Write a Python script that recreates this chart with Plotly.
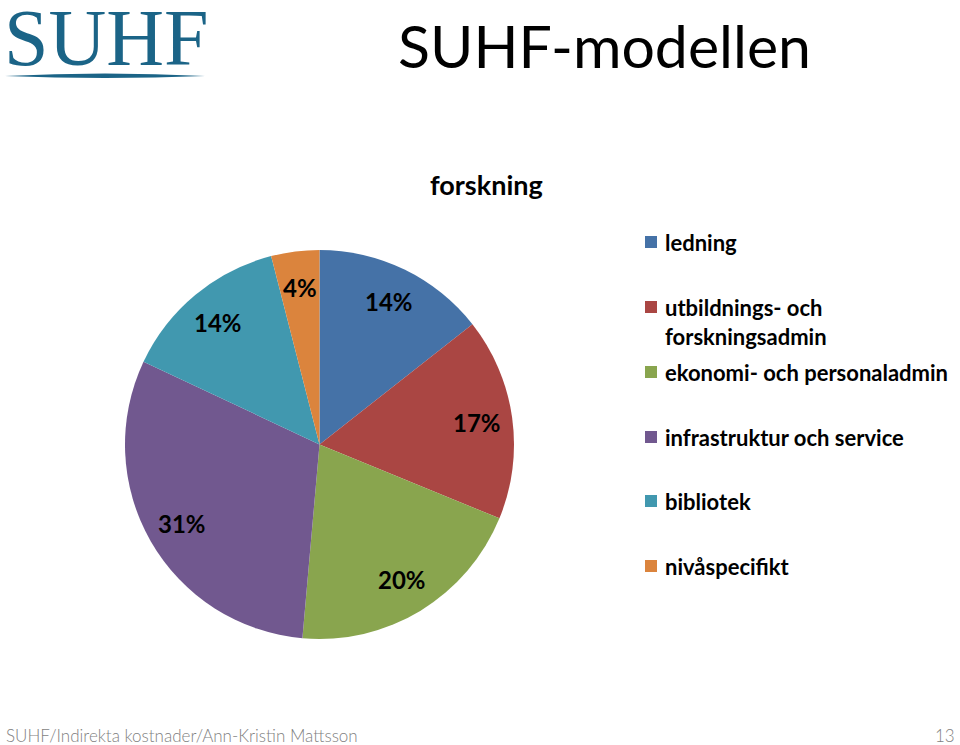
import math
import plotly.graph_objects as go

# ---- data ----
categories = ["ledning", "utbildnings- och<br>forskningsadmin", "ekonomi- och personaladmin",
              "infrastruktur och service", "bibliotek", "nivåspecifikt"]
values = [14.4, 16.8, 20.2, 30.6, 14.0, 4.0]
colors = ["#4572A7", "#AA4643", "#89A54E", "#71588F", "#4198AF", "#DB843D"]

W, H = 960, 745
FONT = "Lato"

# pie geometry (pixels)
cx, cy, R = 319.5, 444.5, 194.5


def px(x):
    return x / W


def py(y):
    return (H - y) / H


fig = go.Figure()
fig.add_trace(go.Pie(
    values=values, labels=categories, sort=False, direction="clockwise", rotation=0,
    marker=dict(colors=colors, line=dict(width=0)),
    textinfo="none", hoverinfo="label+percent", showlegend=False,
    domain=dict(x=[px(cx - R), px(cx + R)], y=[py(cy + R), py(cy - R)]),
))

annotations = []
shapes = []


def txt(x, y, text, size, color="#000000", weight="normal", family=FONT, xanchor="center",
        yanchor="middle", align="left"):
    annotations.append(dict(x=px(x), y=py(y), xref="paper", yref="paper", text=text,
                            showarrow=False, xanchor=xanchor, yanchor=yanchor, align=align,
                            font=dict(family=family, size=size, color=color, weight=weight)))


# percent labels along mid angle of each slice
total = sum(values)
cum = 0.0
for v in values:
    mid = (cum + v / 2) / total * 2 * math.pi
    cum += v
    r = 0.815 * R
    txt(cx + r * math.sin(mid), cy - r * math.cos(mid), f"{round(v / total * 100)}%", 24, weight="bold")

# manual legend
leg_y = [242, 307, 372, 437, 501, 566]
for cat, col, yy in zip(categories, colors, leg_y):
    shapes.append(dict(type="rect", xref="paper", yref="paper",
                       x0=px(645), x1=px(657), y0=py(yy + 6), y1=py(yy - 6),
                       fillcolor=col, line=dict(width=0)))
    txt(663, yy - 15, cat, 22, weight="bold", xanchor="left", yanchor="top")

# titles
txt(604, 45, "SUHF-modellen", 59)
txt(486, 184, "forskning", 27, weight="bold")

# logo
txt(2, 38, "SUHF", 80, color="#1B6487", family="Liberation Serif", xanchor="left")
shapes.append(dict(type="path", xref="paper", yref="paper",
                   path=f"M {px(5)},{py(76)} Q {px(105)},{py(71)} {px(205)},{py(76)} "
                        f"Q {px(105)},{py(80)} {px(5)},{py(76)} Z",
                   fillcolor="#1B6487", line=dict(width=0)))

# footer
txt(4, 735, "SUHF/Indirekta kostnader/Ann-Kristin Mattsson", 17, color="#7F7F7F",
    weight=300, xanchor="left")
txt(957, 735, "13", 17, color="#7F7F7F", weight=300, xanchor="right")

fig.update_layout(width=W, height=H, margin=dict(l=0, r=0, t=0, b=0),
                  paper_bgcolor="white", plot_bgcolor="white",
                  annotations=annotations, shapes=shapes)
fig.write_html("out.html", config={"displayModeBar": False},
               post_script="document.body.style.margin='0';")
